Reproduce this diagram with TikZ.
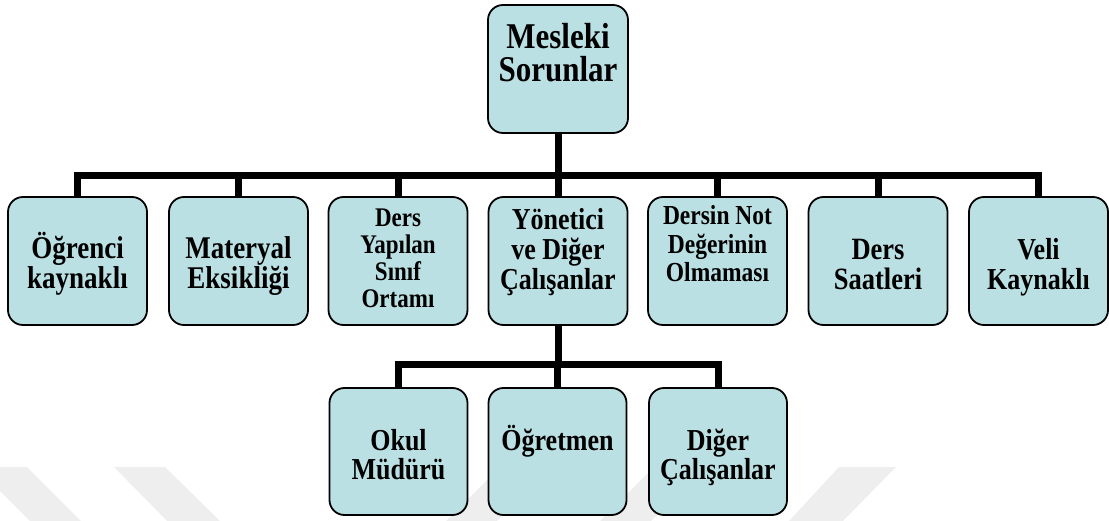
\documentclass[tikz,border=0pt]{standalone}
\usepackage{graphicx}
\usepackage{fontspec}
\setmainfont{Liberation Serif}
\definecolor{boxfill}{RGB}{187,224,227}
\definecolor{markgray}{RGB}{238,238,238}
% centred lines with a fixed baseline distance; the box's baseline is that of the first line
\newcommand{\lines}[2]{\scalebox{1}[1.17]{\vtop{\baselineskip=#1\lineskiplimit=-\maxdimen
  \halign{\hfil##\hfil\cr #2\crcr}}}}
\begin{document}
\begin{tikzpicture}[x=1pt,y=-1pt,
  card/.style={draw=black, line width=1.8pt, fill=boxfill, rounded corners=15pt,
    minimum width=#1, minimum height=128pt, inner sep=0pt},
  card/.default=139pt,
  lbl/.style={anchor=base, inner sep=0pt, font=\bfseries},
  link/.style={line width=7pt, draw=black}]
\useasboundingbox (0,0) rectangle (1109,521);

% faint background marks
\fill[markgray] (-24,467) -- (27,467) -- (81,521) -- (30,521) -- cycle;
\fill[markgray] (114,467) -- (165,467) -- (220,521) -- (167,521) -- cycle;
\fill[markgray] (500,467) -- (551,467) -- (497,521) -- (446,521) -- cycle;
\fill[markgray] (654,467) -- (705,467) -- (651,521) -- (600,521) -- cycle;
\fill[markgray] (839,467) -- (896,467) -- (843,521) -- (789,521) -- cycle;

% junction points of the connector bars
\coordinate (j1) at (558,176);
\coordinate (j2) at (558,365);

% boxes
\node[card=140pt] (top) at (558,69) {};
\node[card] (b1) at (77.5,261) {};
\node[card] (b2) at (238.5,261) {};
\node[card] (b3) at (398,261) {};
\node[card] (b4) at (558,261) {};
\node[card] (b5) at (717.5,261) {};
\node[card] (b6) at (878,261) {};
\node[card] (b7) at (1038.5,261) {};
\node[card=138pt, minimum height=127pt] (c1) at (398.5,451.5) {};
\node[card=138pt, minimum height=127pt] (c2) at (557.5,451.5) {};
\node[card=138pt, minimum height=127pt] (c3) at (718,451.5) {};

% connectors
\draw[link] (top.south) -- (j1);
\foreach \b in {b1,b2,b3,b4,b5,b6,b7} \draw[link] (j1) -| (\b.north);
\draw[link] (b4.south) -- (j2);
\foreach \c in {c1,c2,c3} \draw[link] (j2) -| (\c.north);

% labels
\node[lbl, font=\bfseries\fontsize{31}{33}\selectfont] (ttop) at (558,49) {\lines{28.2pt}{Mesleki\cr Sorunlar}};
\node[lbl, font=\bfseries\fontsize{27}{28}\selectfont] (t1) at (77.5,259) {\lines{25pt}{Öğrenci\cr kaynaklı}};
\node[lbl, font=\bfseries\fontsize{27}{28}\selectfont] (t2) at (238.5,259) {\lines{25pt}{Materyal\cr Eksikliği}};
\node[lbl, font=\bfseries\fontsize{23}{27}\selectfont] (t3) at (398,227) {\lines{23pt}{Ders\cr Yapılan\cr Sınıf\cr Ortamı}};
\node[lbl, font=\bfseries\fontsize{26}{30}\selectfont] (t4) at (558,230) {\lines{25.6pt}{Yönetici\cr ve Diğer\cr Çalışanlar}};
\node[lbl, font=\bfseries\fontsize{23.5}{28}\selectfont] (t5) at (717.5,225) {\lines{24pt}{Dersin Not\cr Değerinin\cr Olmaması}};
\node[lbl, font=\bfseries\fontsize{26.5}{30}\selectfont] (t6) at (878,260) {\lines{25.6pt}{Ders\cr Saatleri}};
\node[lbl, font=\bfseries\fontsize{26}{30}\selectfont] (t7) at (1038.5,260) {\lines{25.6pt}{Veli\cr Kaynaklı}};
\node[lbl, font=\bfseries\fontsize{26}{30}\selectfont] (u1) at (398.5,450) {\lines{25.6pt}{Okul\cr Müdürü}};
\node[lbl, font=\bfseries\fontsize{26}{30}\selectfont] (u2) at (557.5,450) {\lines{25.6pt}{Öğretmen}};
\node[lbl, font=\bfseries\fontsize{26}{30}\selectfont] (u3) at (718,450) {\lines{25.6pt}{Diğer\cr Çalışanlar}};
\end{tikzpicture}
\end{document}
